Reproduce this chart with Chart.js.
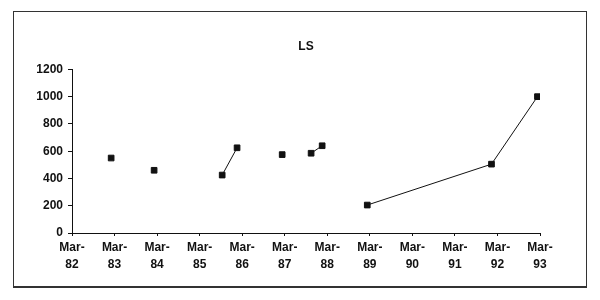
<!DOCTYPE html>
<html>
<head>
<meta charset="utf-8">
<script src="https://cdn.jsdelivr.net/npm/chart.js@4/dist/chart.umd.min.js"></script>
<style>
    body { margin: 0; background: #fff; }
    #wrap { position: relative; width: 600px; height: 300px; }
    #box { position: absolute; left: 13px; top: 11px; width: 572px; height: 274px; border: 1px solid #333; border-bottom-width: 2px; }
    canvas { position: absolute; left: 0; top: 0; }
</style>
</head>
<body>
<div id="wrap">
    <div id="box"></div>
    <canvas id="lsChart" width="600" height="300"></canvas>
</div>
<script>
// LS values, dates as years (82 = Mar-82); null breaks the line
const years = [82.92, 83.5, 83.93, 84.5, 85.53, 85.88, 86.5, 86.94, 87.3, 87.62, 87.88, 88.4, 88.94, 91.86, 92.94];
const lsValues = [550, null, 460, null, 425, 625, null, 575, null, 585, 640, null, 205, 505, 1000];
const yearTicks = [82, 83, 84, 85, 86, 87, 88, 89, 90, 91, 92, 93];
const yTicks = [0, 200, 400, 600, 800, 1000, 1200];

const points = [];
for (let i = 0; i < years.length; i++) {
    points.push({ x: years[i], y: lsValues[i] });
}

const font = { family: 'Liberation Sans, Arial, sans-serif', size: 12, weight: 'bold' };

const lsChart = new Chart(document.getElementById('lsChart'), {
    type: 'line',
    data: {
        datasets: [{
            label: 'LS',
            data: points,
            borderColor: '#111',
            backgroundColor: '#111',
            borderWidth: 1,
            pointStyle: 'rect',
            pointRadius: 4,
            spanGaps: false,
            tension: 0
        }]
    },
    options: {
        responsive: false,
        animation: false,
        layout: { padding: { left: 0, right: 60, top: 0, bottom: 0 } },
        plugins: {
            legend: { display: false },
            tooltip: { enabled: false },
            title: {
                display: true,
                text: 'LS',
                fullSize: false,
                color: '#111',
                font: { family: 'Liberation Sans, Arial, sans-serif', size: 12, weight: 'bold' },
                padding: { top: 39, bottom: 16 }
            }
        },
        scales: {
            x: {
                type: 'linear',
                min: yearTicks[0],
                max: yearTicks[yearTicks.length - 1],
                afterBuildTicks: function (scale) {
                    scale.ticks = yearTicks.map(v => ({ value: v }));
                },
                afterFit: function (scale) { scale.height = 67; },
                grid: { drawOnChartArea: false, tickLength: 3, color: '#111' },
                border: { color: '#111', width: 1 },
                ticks: {
                    color: '#111',
                    font: Object.assign({ lineHeight: 1.45 }, font),
                    padding: 3,
                    maxRotation: 0,
                    autoSkip: false,
                    callback: function (v) { return ['Mar-', String(v)]; }
                }
            },
            y: {
                min: 0,
                max: 1200,
                afterBuildTicks: function (scale) {
                    scale.ticks = yTicks.map(v => ({ value: v }));
                },
                afterFit: function (scale) { scale.width = 72; },
                grid: { drawOnChartArea: false, tickLength: 4, color: '#111' },
                border: { color: '#111', width: 1 },
                ticks: {
                    color: '#111',
                    font: font,
                    padding: 5,
                    callback: function (v) { return String(v); }
                }
            }
        }
    }
});
</script>
</body>
</html>
